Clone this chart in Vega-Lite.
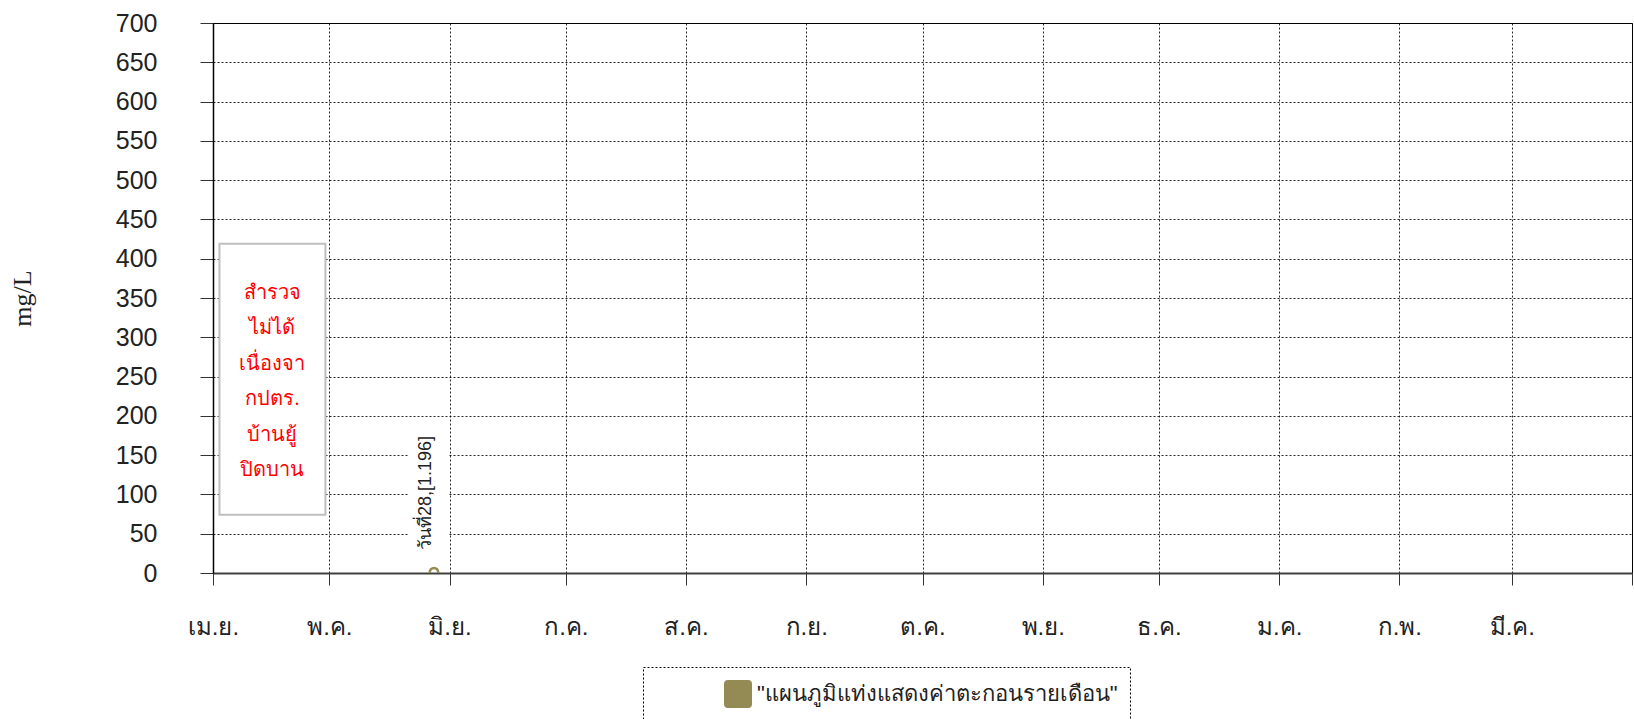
{
  "$schema": "https://vega.github.io/schema/vega-lite/v6.json",
  "width": 1419,
  "height": 550,
  "autosize": {"type": "none"},
  "padding": {"left": 213, "top": 23, "right": 2, "bottom": 146},
  "background": "white",
  "config": {
    "view": {"stroke": "#000000", "strokeWidth": 1},
    "font": "Liberation Sans",
    "legend": {"strokeDash": [2, 2]}
  },
  "datasets": {
    "points": [
      {"t": "2019-05-28T00:00:00", "v": 1.196, "series": "\"แผนภูมิแท่งแสดงค่าตะกอนรายเดือน\"", "label": "วันที่28,[1.196]"}
    ],
    "labelbg": [
      {"t": "2019-05-21T10:00:00", "t2": "2019-05-31T16:00:00", "v": 16, "v2": 182}
    ],
    "notebox": [
      {"t": "2019-04-02T16:00:00", "t2": "2019-04-30T00:00:00", "v": 74, "v2": 419}
    ],
    "notetext": [
      {"t": "2019-04-16T08:00:00", "v": 357, "text": "สำรวจ\nไม่ได้\nเนื่องจา\nกปตร.\nบ้านยู้\nปิดบาน"}
    ]
  },
  "encoding": {
    "x": {"field": "t", "type": "temporal", "scale": {"type": "utc", "domain": [{"year": 2019, "month": 4, "date": 1, "utc": true}, {"year": 2020, "month": 4, "date": 1, "utc": true}]},
      "axis": {
        "title": null,
        "values": [
          {"year": 2019, "month": 4, "date": 1, "utc": true},
          {"year": 2019, "month": 5, "date": 1, "utc": true},
          {"year": 2019, "month": 6, "date": 1, "utc": true},
          {"year": 2019, "month": 7, "date": 1, "utc": true},
          {"year": 2019, "month": 8, "date": 1, "utc": true},
          {"year": 2019, "month": 9, "date": 1, "utc": true},
          {"year": 2019, "month": 10, "date": 1, "utc": true},
          {"year": 2019, "month": 11, "date": 1, "utc": true},
          {"year": 2019, "month": 12, "date": 1, "utc": true},
          {"year": 2020, "month": 1, "date": 1, "utc": true},
          {"year": 2020, "month": 2, "date": 1, "utc": true},
          {"year": 2020, "month": 3, "date": 1, "utc": true},
          {"year": 2020, "month": 4, "date": 1, "utc": true}
        ],
        "labelExpr": "utcyear(datum.value) == 2020 && utcmonth(datum.value) == 3 ? '' : ['ม.ค.','ก.พ.','มี.ค.','เม.ย.','พ.ค.','มิ.ย.','ก.ค.','ส.ค.','ก.ย.','ต.ค.','พ.ย.','ธ.ค.'][utcmonth(datum.value)]",
        "labelFontSize": 24,
        "labelColor": "#222222",
        "labelPadding": 30,
        "labelFlush": false,
        "labelOverlap": false,
        "labelAlign": "center",
        "tickSize": 12,
        "tickColor": "#333333",
        "tickWidth": 1,
        "domainColor": "#404040",
        "domainWidth": 2,
        "grid": true,
        "gridColor": "#000000",
        "gridDash": [2, 2],
        "gridWidth": 1,
        "gridOpacity": 0.85
      }
    },
    "y": {"field": "v", "type": "quantitative", "scale": {"domain": [0, 700], "nice": false},
      "axis": {
        "title": "mg/L",
        "titleFont": "Liberation Serif",
        "titleFontSize": 26,
        "titleFontWeight": "normal",
        "titleColor": "#222222",
        "titlePadding": 80,
        "values": [0, 50, 100, 150, 200, 250, 300, 350, 400, 450, 500, 550, 600, 650, 700],
        "labelOverlap": false,
        "labelFontSize": 25,
        "labelColor": "#222222",
        "labelPadding": 43,
        "tickSize": 13,
        "tickColor": "#333333",
        "domainColor": "#000000",
        "domainWidth": 1.5,
        "grid": true,
        "gridColor": "#000000",
        "gridDash": [2, 2],
        "gridWidth": 1,
        "gridOpacity": 0.85
      }
    }
  },
  "layer": [
    {
      "data": {"name": "labelbg"},
      "mark": {"type": "rect", "fill": "white", "strokeWidth": 0},
      "encoding": {
        "x2": {"field": "t2"},
        "y2": {"field": "v2"}
      }
    },
    {
      "data": {"name": "notebox"},
      "mark": {"type": "rect", "fill": "white", "stroke": "#BFBFBF", "strokeWidth": 2},
      "encoding": {
        "x2": {"field": "t2"},
        "y2": {"field": "v2"}
      }
    },
    {
      "data": {"name": "notetext"},
      "mark": {"type": "text", "color": "#FF0000", "fontSize": 20, "font": "Liberation Serif", "lineBreak": "\n", "lineHeight": 35.5, "align": "center", "baseline": "middle"},
      "encoding": {
        "text": {"field": "text"}
      }
    },
    {
      "data": {"name": "points"},
      "mark": {"type": "point", "filled": true, "opacity": 0, "size": 0, "shape": "M -0.72,-1 L 0.72,-1 Q 1,-1 1,-0.72 L 1,0.72 Q 1,1 0.72,1 L -0.72,1 Q -1,1 -1,0.72 L -1,-0.72 Q -1,-1 -0.72,-1 Z"},
      "encoding": {
        "color": {"field": "series", "type": "nominal", "scale": {"range": ["#948A54"]},
          "legend": {
            "title": null,
            "orient": "none",
            "legendX": 430,
            "legendY": 644,
            "padding": 12,
            "strokeColor": "#000000",
            "symbolType": "M -0.72,-1 L 0.72,-1 Q 1,-1 1,-0.72 L 1,0.72 Q 1,1 0.72,1 L -0.72,1 Q -1,1 -1,0.72 L -1,-0.72 Q -1,-1 -0.72,-1 Z",
            "symbolSize": 784,
            "symbolOffset": 68,
            "symbolOpacity": 1,
            "labelFontSize": 22,
            "labelColor": "#222222",
            "labelOffset": 4,
            "labelLimit": 600
          }
        }
      }
    },
    {
      "data": {"name": "points"},
      "mark": {"type": "point", "filled": false, "strokeWidth": 2.5, "size": 70, "clip": true, "opacity": 1, "color": "#948A54"},
      "encoding": {}
    },
    {
      "data": {"name": "points"},
      "mark": {"type": "text", "angle": 270, "align": "left", "baseline": "middle", "dx": 22, "dy": -8, "fontSize": 18, "color": "#222222"},
      "encoding": {
        "text": {"field": "label"}
      }
    }
  ]
}
